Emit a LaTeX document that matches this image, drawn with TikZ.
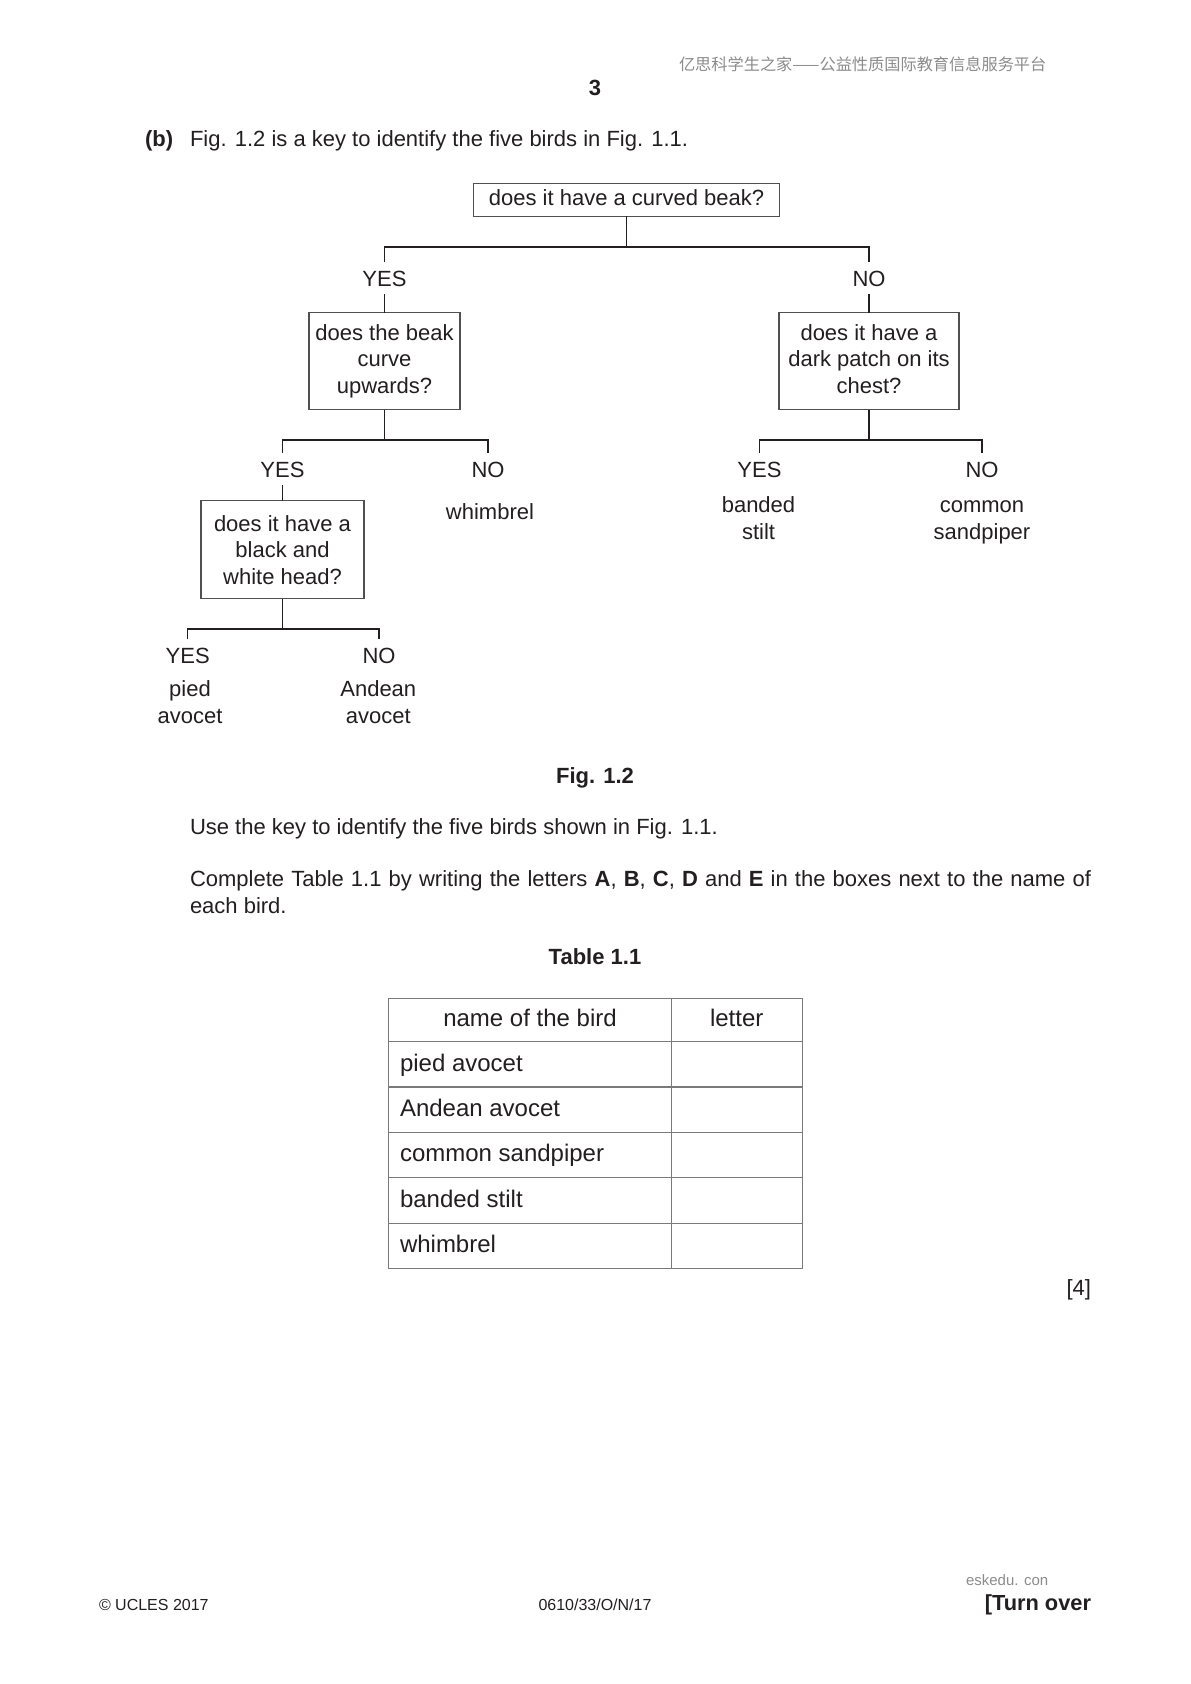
\documentclass[tikz,border=0pt]{standalone}
\usepackage{fontspec}
\setmainfont{Liberation Sans}
\newfontfamily\cjk{Noto Sans CJK SC}
\usetikzlibrary{calc}
\definecolor{ink}{HTML}{231F20}
\definecolor{boxline}{HTML}{505050}
\definecolor{tabline}{HTML}{7A7A7A}
\definecolor{wm}{HTML}{8C8C8C}
\begin{document}
\begin{tikzpicture}[x=1pt,y=-1pt,
  every node/.style={inner sep=0pt, outer sep=0pt, text=ink},
  body/.style={font=\fontsize{22}{27}\selectfont},
  boldt/.style={font=\fontsize{22}{27}\selectfont\bfseries},
  small/.style={font=\fontsize{16}{19}\selectfont},
  qbox/.style={draw=boxline, line width=1.2pt, align=center, font=\fontsize{22}{26.5}\selectfont},
  lab/.style={font=\fontsize{22}{26.5}\selectfont, anchor=base, text height=16pt, text depth=0pt, inner ysep=8pt},
  leaf/.style={font=\fontsize{22}{26.6}\selectfont, anchor=base, align=center},
  conn/.style={draw=ink, line width=1.5pt},
  tab/.style={draw=tabline, line width=1.2pt},
  cell/.style={font=\fontsize{24}{28}\selectfont, anchor=base west},
  head/.style={font=\fontsize{24}{28}\selectfont, anchor=base}
]
\fill[white] (0,0) rectangle (1191,1684);
\useasboundingbox (0,0) rectangle (1191,1684);

% header
\node[anchor=base west, text=wm, font=\cjk\fontsize{16.2}{19}\selectfont] (wm) at (679,70) {亿思科学生之家——公益性质国际教育信息服务平台};
\node[boldt, anchor=base] (pg) at (595,95) {3};
\node[boldt, anchor=base west] (b) at (145,146) {(b)};
\node[body, anchor=base west] (intro) at (190,146) {Fig. 1.2 is a key to identify the five birds in Fig. 1.1.};

% key
\node[qbox, minimum width=306pt, minimum height=33pt, text height=16pt, text depth=5pt] (q1) at (626.5,199.7) {does it have a curved beak?};
\coordinate (j1) at ($(q1.south)+(0,31)$);
\node[lab] (y1) at (384.5,286) {YES};
\node[lab] (n1) at (869,286) {NO};
\draw[conn] (q1.south) -- (j1);
\draw[conn] (y1.north) |- (j1) -| (n1.north);

\node[qbox, minimum width=151pt, minimum height=97pt] (q2) at (384.5,361.3) {does the beak\\curve\\upwards?};
\node[qbox, minimum width=180pt, minimum height=97pt] (q3) at (869,361.3) {does it have a\\dark patch on its\\chest?\vphantom{p}};
\draw[conn] (y1.south) -- (q2.north);
\draw[conn] (n1.south) -- (q3.north);

% left level 2
\coordinate (j2) at ($(q2.south)+(0,30)$);
\node[lab] (y2) at (282.5,477.3) {YES};
\node[lab] (n2) at (488,477.3) {NO};
\draw[conn] (q2.south) -- (j2);
\draw[conn] (y2.north) |- (j2) -| (n2.north);
\node[leaf] (whim) at (490,519) {whimbrel};

\node[qbox, minimum width=163pt, minimum height=98pt] (q4) at (282.5,549.8) {does it have a\\black and\\white head?};
\draw[conn] (y2.south) -- (q4.north);

% right level 2
\coordinate (j3) at ($(q3.south)+(0,30)$);
\node[lab] (y3) at (759.5,477) {YES};
\node[lab] (n3) at (982,477) {NO};
\draw[conn] (q3.south) -- (j3);
\draw[conn] (y3.north) |- (j3) -| (n3.north);
\node[leaf] (stilt) at (758.5,539.3) {banded\\stilt};
\node[leaf] (sand) at (982,539.3) {common\\sandpiper};

% level 3
\coordinate (j4) at ($(q4.south)+(0,30)$);
\node[lab] (y4) at (187.7,663.3) {YES};
\node[lab] (n4) at (379,663.3) {NO};
\draw[conn] (q4.south) -- (j4);
\draw[conn] (y4.north) |- (j4) -| (n4.north);
\node[leaf] (pied) at (190,723.3) {pied\\avocet};
\node[leaf] (andean) at (378.3,723.3) {Andean\\avocet};

% caption and instructions
\node[boldt, anchor=base] (fig) at (595,783) {Fig. 1.2};
\node[body, anchor=base west] (use) at (190,834.5) {Use the key to identify the five birds shown in Fig. 1.1.};
\node[body, anchor=base west, text width=901pt, align=justify] (complete) at (190,886) {Complete Table 1.1 by writing the letters \textbf{A}, \textbf{B}, \textbf{C}, \textbf{D} and \textbf{E} in the boxes next to the name of\linebreak each bird.};
\node[boldt, anchor=base] (tabcap) at (595,964.5) {Table 1.1};

% table
\draw[tab] (388.3,998.3) rectangle (802.3,1268.3);
\draw[tab] (671.7,998.3) -- (671.7,1268.3);
\foreach \yy in {1041.3,1087,1132.7,1177.7,1223.3}
  \draw[tab] (388.3,\yy) -- (802.3,\yy);
\node[head] (h1) at (530,1026.7) {name of the bird};
\node[head] (h2) at (736.7,1026.7) {letter};
\node[cell] (r1) at (400,1071.7) {pied avocet};
\node[cell] (r2) at (400,1116.7) {Andean avocet};
\node[cell] (r3) at (400,1161.7) {common sandpiper};
\node[cell] (r4) at (400,1207.7) {banded stilt};
\node[cell] (r5) at (400,1252.7) {whimbrel};

\node[body, anchor=base east] (mark) at (1091,1295) {[4]};

% footer
\node[anchor=base west, text=wm, font=\fontsize{15}{18}\selectfont] (esk) at (966,1585) {eskedu. con};
\node[small, anchor=base west] (ucles) at (99,1610) {© UCLES 2017};
\node[small, anchor=base] (code) at (595,1610) {0610/33/O/N/17};
\node[anchor=base east, font=\fontsize{21.8}{25}\selectfont\bfseries] (turn) at (1091,1610) {[Turn over};
\end{tikzpicture}
\end{document}
